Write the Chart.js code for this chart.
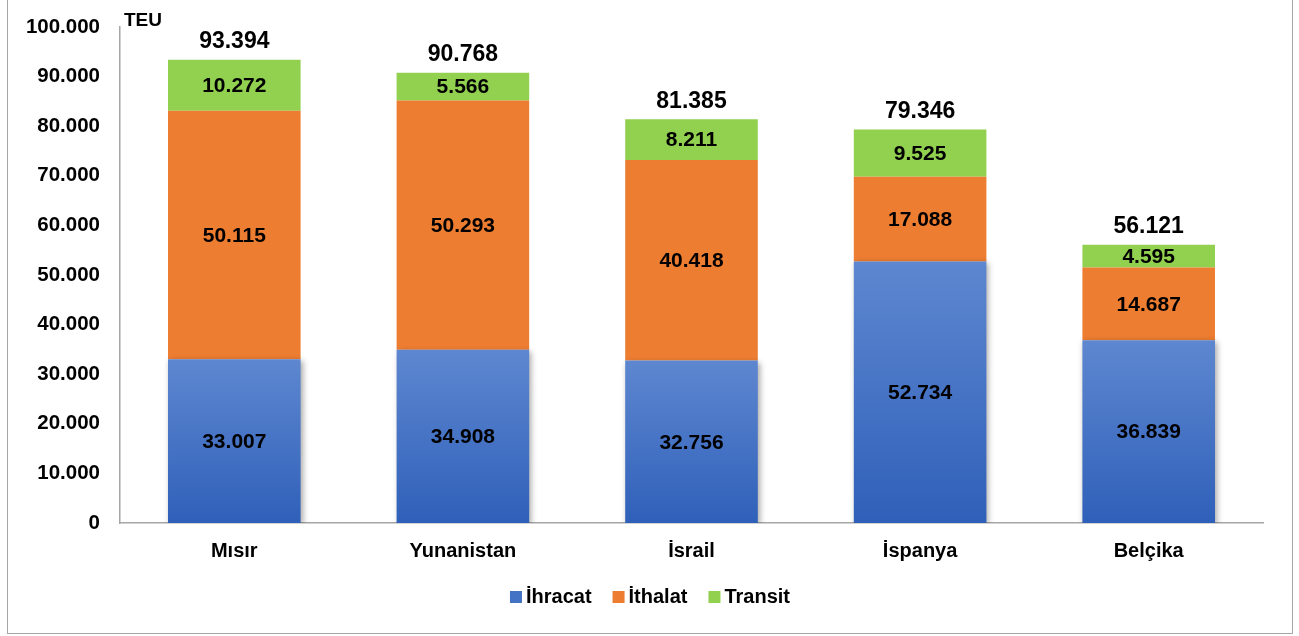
<!DOCTYPE html>
<html lang="tr">
<head>
<meta charset="utf-8">
<title>TEU</title>
<script src="https://cdn.jsdelivr.net/npm/chart.js@4.4.1/dist/chart.umd.min.js"></script>
<style>
  html, body { margin: 0; padding: 0; background: #fff; }
  #kutu {
    position: absolute; left: 7px; top: -1px;
    width: 1284px; height: 633px;
    border: 1px solid #a6a6a6;
  }
  canvas { display: block; }
</style>
</head>
<body>
<div id="kutu"><canvas id="grafik" width="1284" height="633"></canvas></div>
<script>
const ulkeler = ['Mısır', 'Yunanistan', 'İsrail', 'İspanya', 'Belçika'];
const ihracat = [33007, 34908, 32756, 52734, 36839];
const ithalat = [50115, 50293, 40418, 17088, 14687];
const transit = [10272, 5566, 8211, 9525, 4595];
const toplamlar = [93394, 90768, 81385, 79346, 56121];
const seriAdlari = ['İhracat', 'İthalat', 'Transit'];
const birim = 'TEU';

const FONT = '"Liberation Sans", Arial, sans-serif';
const lejantRenkleri = ['#4472c4', '#ed7d31', '#92d050'];

// 93394 -> "93.394"
function sayiFormat(v) {
  return String(Math.round(v)).replace(/\B(?=(\d{3})+(?!\d))/g, '.');
}

// mavi sütunlarda yukarıdan aşağı koyulaşan renk
function maviGradyan(context) {
  const chart = context.chart;
  const y = chart.scales && chart.scales.y;
  if (!chart.chartArea || !y || context.type !== 'data') return '#4472c4';
  const ust = y.getPixelForValue(context.raw);
  const alt = y.getPixelForValue(0);
  const g = chart.ctx.createLinearGradient(0, ust, 0, alt);
  g.addColorStop(0, '#5e87d0');
  g.addColorStop(1, '#2f60b9');
  return g;
}

const etiketEklentisi = {
  id: 'etiketler',
  beforeDatasetDraw(chart, args) {
    if (args.index === 0) {
      const ctx = chart.ctx;
      ctx.save();
      ctx.shadowColor = 'rgba(0,0,0,0.35)';
      ctx.shadowBlur = 6;
      ctx.shadowOffsetX = 2;
      ctx.shadowOffsetY = 2;
    }
  },
  afterDatasetDraw(chart, args) {
    if (args.index === 0) chart.ctx.restore();
  },
  afterDatasetsDraw(chart) {
    const ctx = chart.ctx;
    ctx.save();
    ctx.fillStyle = '#000';
    ctx.textAlign = 'center';
    ctx.textBaseline = 'middle';
    ctx.font = 'bold 21px ' + FONT;
    chart.data.datasets.forEach((ds, i) => {
      const meta = chart.getDatasetMeta(i);
      meta.data.forEach((bar, j) => {
        const mid = (bar.y + bar.base) / 2;
        ctx.fillText(sayiFormat(ds.data[j]), bar.x, mid + 1);
      });
    });
    // toplamlar
    ctx.font = 'bold 23px ' + FONT;
    const ustMeta = chart.getDatasetMeta(chart.data.datasets.length - 1);
    ustMeta.data.forEach((bar, j) => {
      ctx.fillText(sayiFormat(toplamlar[j]), bar.x, bar.y - 18);
    });
    // birim
    ctx.font = 'bold 19px ' + FONT;
    ctx.textAlign = 'left';
    ctx.fillText(birim, chart.chartArea.left + 4, chart.chartArea.top - 6);
    ctx.restore();
  },
  afterDraw(chart) {
    // lejant: kare ile yazı arasında dar boşluk
    const ctx = chart.ctx;
    ctx.save();
    ctx.font = 'bold 20px ' + FONT;
    ctx.textBaseline = 'middle';
    ctx.textAlign = 'left';
    const kare = 12, bosluk = 4, arali = 21;
    const genislikler = chart.data.datasets.map(ds => kare + bosluk + ctx.measureText(ds.label).width);
    const toplam = genislikler.reduce((a, b) => a + b, 0) + arali * (genislikler.length - 1);
    let x = chart.width / 2 - toplam / 2;
    const y = 597;
    chart.data.datasets.forEach((ds, i) => {
      ctx.fillStyle = lejantRenkleri[i];
      ctx.fillRect(x, y - 6, kare, kare);
      ctx.fillStyle = '#000';
      ctx.fillText(ds.label, x + kare + bosluk, y);
      x += genislikler[i] + arali;
    });
    ctx.restore();
  }
};

document.addEventListener('DOMContentLoaded', () => {
  const ctx = document.getElementById('grafik').getContext('2d');

  new Chart(ctx, {
    type: 'bar',
    data: {
      labels: ulkeler,
      datasets: [
        { label: seriAdlari[0], data: ihracat, backgroundColor: maviGradyan },
        { label: seriAdlari[1], data: ithalat, backgroundColor: '#ed7d31' },
        { label: seriAdlari[2], data: transit, backgroundColor: '#92d050' }
      ]
    },
    options: {
      responsive: false,
      animation: false,
      layout: { padding: { top: 27, right: 29, bottom: 0, left: 0 } },
      datasets: {
        bar: { barPercentage: 0.58, categoryPercentage: 1.0, borderWidth: 0 }
      },
      scales: {
        x: {
          stacked: true,
          grid: { display: false, drawTicks: false },
          border: { display: true, color: '#a6a6a6', width: 1.5 },
          ticks: { color: '#000', padding: 16, font: { family: FONT, size: 20, weight: 'bold' } },
          afterFit(scale) { scale.height = 110; scale.paddingLeft = 0; scale.paddingRight = 0; }
        },
        y: {
          stacked: true,
          min: 0,
          max: 100000,
          grid: { display: false, drawTicks: false },
          border: { display: true, color: '#a6a6a6', width: 1.5 },
          ticks: {
            stepSize: 10000,
            color: '#000',
            padding: 20,
            font: { family: FONT, size: 20.5, weight: 'bold' },
            callback: v => sayiFormat(v)
          },
          afterFit(scale) { scale.width = 112; scale.paddingTop = 0; scale.paddingBottom = 0; }
        }
      },
      plugins: {
        legend: { display: false },
        tooltip: { enabled: false }
      }
    },
    plugins: [etiketEklentisi]
  });
});
</script>
</body>
</html>
